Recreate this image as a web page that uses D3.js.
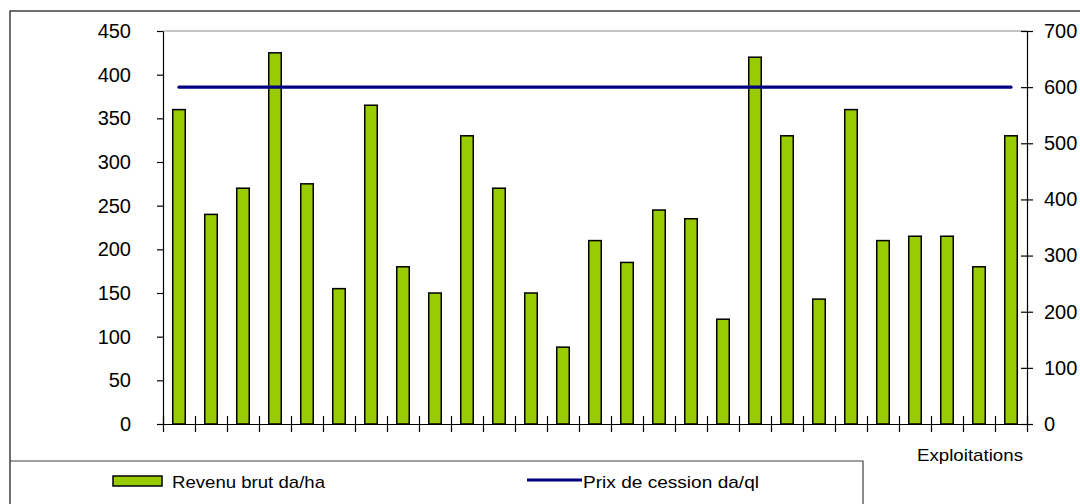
<!DOCTYPE html>
<html>
<head>
<meta charset="utf-8">
<script src="https://cdn.jsdelivr.net/npm/d3@7"></script>
<style>
  html, body { margin: 0; padding: 0; background: #fff; }
  svg { display: block; font-family: "Liberation Sans", Arial, sans-serif; }
</style>
</head>
<body>
<svg id="chart" width="1080" height="504"></svg>
<script>
// Exploitations (farms), one bar each
const exploitations = d3.range(1, 28).map(String);
// Gross revenue per hectare (da/ha), left axis
const revenuBrut = [360, 240, 270, 425, 275, 155, 365, 180, 150, 330, 270, 150, 88, 210,
                    185, 245, 235, 120, 420, 330, 143, 360, 210, 215, 215, 180, 330];
// Transfer price per quintal (da/ql), right axis
const prixCession = exploitations.map(() => 600);

const leftTicks = d3.range(0, 451, 50);
const rightTicks = d3.range(0, 701, 100);

const serieBarres = "Revenu brut da/ha";
const serieLigne = "Prix de cession da/ql";
const titreAxeX = "Exploitations";

const svg = d3.select("#chart");

const plot = { left: 163, right: 1027, top: 31, bottom: 424 };

const x = d3.scaleBand().domain(exploitations).range([plot.left, plot.right]).padding(0);
const xEdges = d3.scaleLinear().domain([0, exploitations.length]).range([plot.left, plot.right]);
const yLeft = d3.scaleLinear().domain([0, 450]).range([plot.bottom, plot.top]);
const yRight = d3.scaleLinear().domain([0, 700]).range([plot.bottom, plot.top]);

// outer chart frame (extends past the right and bottom edges)
svg.append("path")
  .attr("d", "M10,1000 L10,11 L1100,11")
  .attr("fill", "none").attr("stroke", "#404040").attr("stroke-width", 1.5);

// top border of the plot area
svg.append("line")
  .attr("x1", plot.left).attr("x2", plot.right)
  .attr("y1", plot.top).attr("y2", plot.top)
  .attr("stroke", "#8c8c8c").attr("stroke-width", 1.2);

// bars
const barW = 12.5;
svg.append("g").selectAll("rect")
  .data(revenuBrut)
  .join("rect")
  .attr("x", (d, i) => x(exploitations[i]) + x.bandwidth() / 2 - barW / 2)
  .attr("y", d => yLeft(d))
  .attr("width", barW)
  .attr("height", d => yLeft(0) - yLeft(d))
  .attr("fill", "#99cc00")
  .attr("stroke", "#000")
  .attr("stroke-width", 1.5);

// left axis
const gLeft = svg.append("g")
  .attr("transform", `translate(${plot.left},0)`)
  .call(d3.axisLeft(yLeft).tickValues(leftTicks).tickSize(6).tickSizeOuter(0).tickPadding(26));
gLeft.select(".domain").attr("stroke", "#000").attr("stroke-width", 1.2);
gLeft.selectAll(".tick line").attr("stroke", "#000").attr("stroke-width", 1.2);
gLeft.selectAll(".tick text").attr("font-size", 20).attr("fill", "#000")
  .attr("font-family", "Liberation Sans, Arial, sans-serif");

// right axis
const gRight = svg.append("g")
  .attr("transform", `translate(${plot.right},0)`)
  .call(d3.axisRight(yRight).tickValues(rightTicks).tickSize(6).tickSizeOuter(0).tickPadding(11));
gRight.select(".domain").attr("stroke", "#000").attr("stroke-width", 1.2);
gRight.selectAll(".tick line").attr("x1", -6).attr("x2", 6).attr("stroke", "#000").attr("stroke-width", 1.2);
gRight.selectAll(".tick text").attr("font-size", 20).attr("fill", "#000")
  .attr("font-family", "Liberation Sans, Arial, sans-serif");

// category axis with cross ticks between bars
const gBottom = svg.append("g")
  .attr("transform", `translate(0,${plot.bottom})`)
  .call(d3.axisBottom(xEdges).tickValues(d3.range(exploitations.length + 1)).tickFormat("").tickSizeOuter(0));
gBottom.select(".domain").attr("stroke", "#000").attr("stroke-width", 1.2);
gBottom.selectAll(".tick line").attr("y1", -8).attr("y2", 8).attr("stroke", "#000").attr("stroke-width", 1.2);

// price line
const line = d3.line()
  .x((d, i) => x(exploitations[i]) + x.bandwidth() / 2)
  .y(d => yRight(d));
svg.append("path")
  .datum(prixCession)
  .attr("d", line)
  .attr("fill", "none")
  .attr("stroke", "#000080")
  .attr("stroke-width", 3.2)
  .attr("stroke-linecap", "round");

// x axis title
svg.append("text")
  .attr("x", 917).attr("y", 461)
  .attr("font-size", 17)
  .attr("textLength", 106).attr("lengthAdjust", "spacingAndGlyphs")
  .attr("fill", "#000")
  .text(titreAxeX);

// legend box
svg.append("path")
  .attr("d", "M10,461 L863,461 L863,520")
  .attr("fill", "none").attr("stroke", "#404040").attr("stroke-width", 1.2);

svg.append("rect")
  .attr("x", 113).attr("y", 476).attr("width", 49).attr("height", 10)
  .attr("fill", "#99cc00").attr("stroke", "#000").attr("stroke-width", 1.5);
svg.append("text")
  .attr("x", 172).attr("y", 488)
  .attr("font-size", 17)
  .attr("textLength", 153).attr("lengthAdjust", "spacingAndGlyphs")
  .attr("fill", "#000")
  .text(serieBarres);

svg.append("line")
  .attr("x1", 527).attr("x2", 582).attr("y1", 480).attr("y2", 480)
  .attr("stroke", "#000080").attr("stroke-width", 3.2);
svg.append("text")
  .attr("x", 583).attr("y", 488)
  .attr("font-size", 17)
  .attr("textLength", 176).attr("lengthAdjust", "spacingAndGlyphs")
  .attr("fill", "#000")
  .text(serieLigne);
</script>
</body>
</html>
